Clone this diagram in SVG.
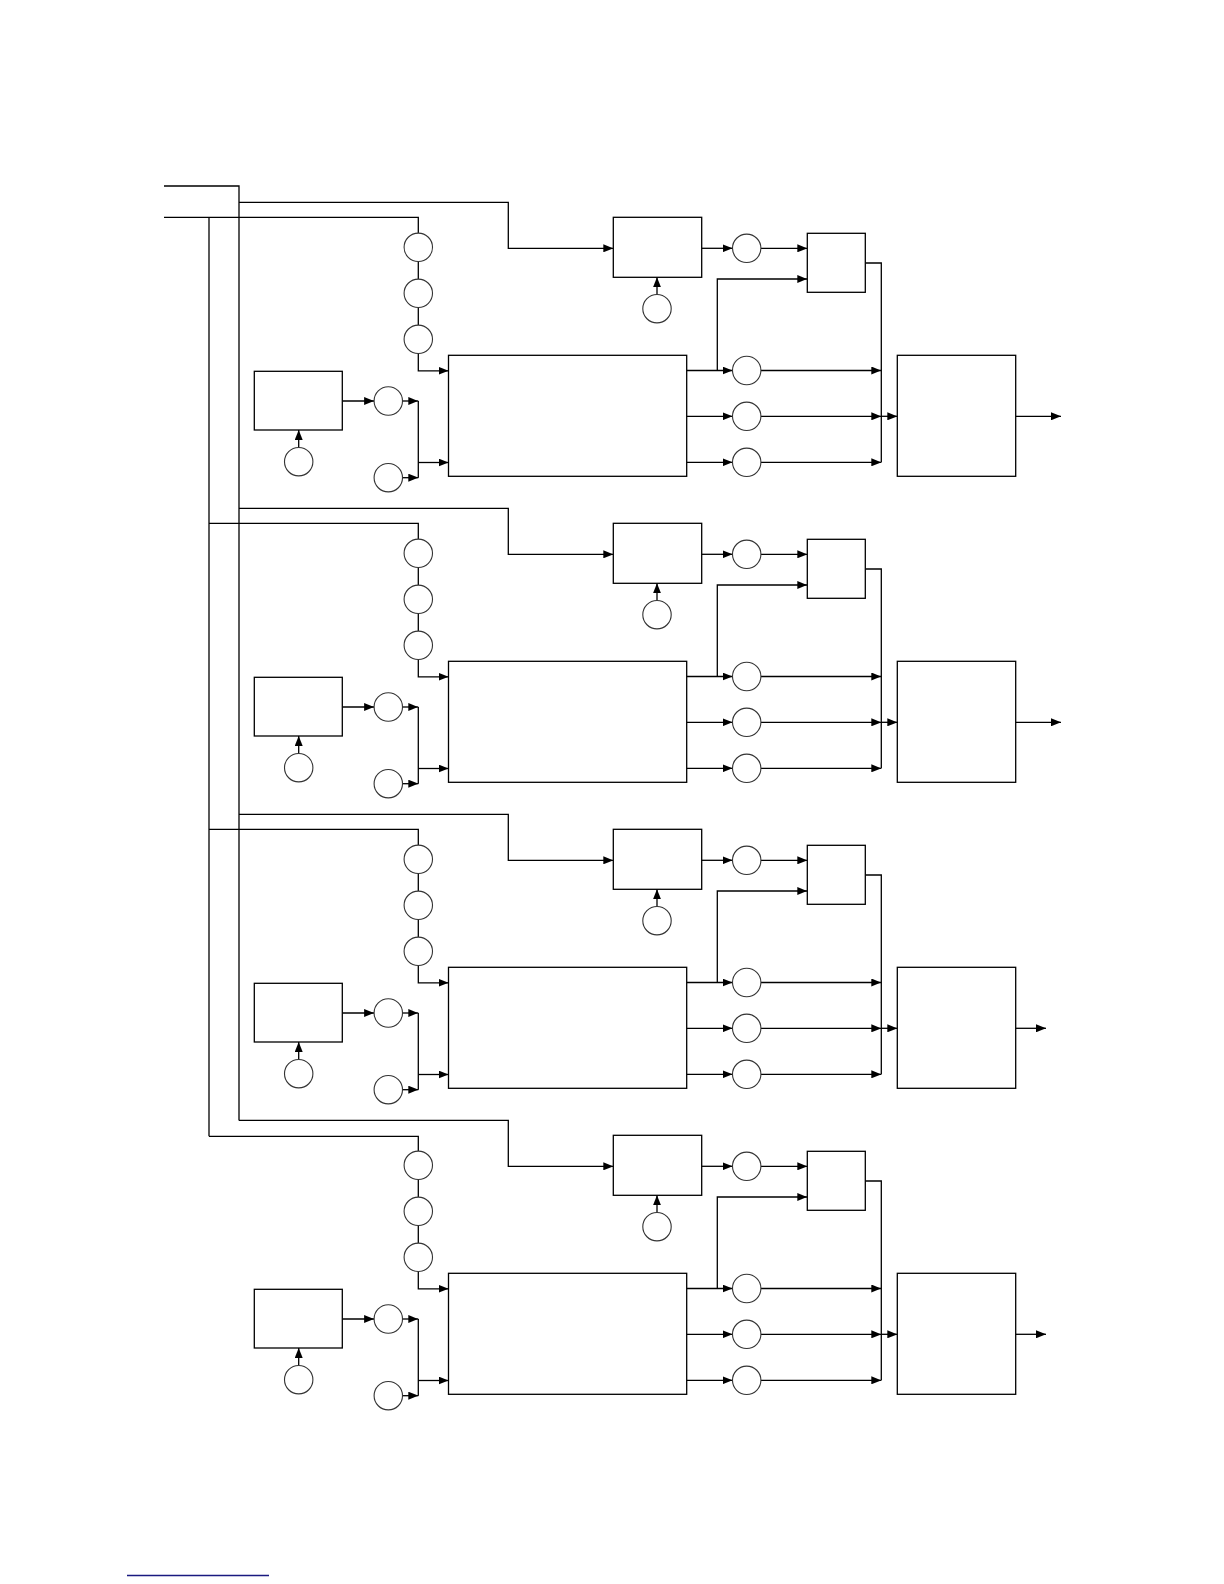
<svg xmlns="http://www.w3.org/2000/svg" width="1224" height="1584" viewBox="0 0 1224 1584">
<style>
.ln{fill:none;stroke:#000;stroke-width:1.3}
.ar{marker-end:url(#ah)}
.bx{fill:#fff;stroke:#000;stroke-width:1.3}
.ci{fill:#fff;stroke:#333;stroke-width:1.1}
</style>
<defs>
<marker id="ah" markerWidth="10" markerHeight="8" refX="10" refY="4" orient="auto" markerUnits="userSpaceOnUse"><path d="M0,0L10,4L0,8z" fill="#000"/></marker>
</defs>
<rect width="1224" height="1584" fill="#fff"/>
<g id="backbone" class="ln">
<path d="M164 186H239V1120.5"/>
<path d="M209 217.3V1136.3"/>
</g>
<g id="section1">
<g id="s1-connectors" class="ln">
<path class="ar" d="M239 202.3H508.3V248.3H613.3"/>
<path d="M164 217.3H418.3V233.1"/>
<path d="M418.3 261.5V279.1"/>
<path d="M418.3 307.5V325.1"/>
<path class="ar" d="M418.3 353.5V370.8H448.5"/>
<path class="ar" d="M342.3 401H374.1"/>
<path class="ar" d="M402.5 401H418.3"/>
<path class="ar" d="M402.5 477.7H418.3"/>
<path d="M418.3 401V477.7"/>
<path class="ar" d="M418.3 462.5H448.5"/>
<path class="ar" d="M298.7 447.5V430"/>
<path class="ar" d="M657 294.5V277.3"/>
<path class="ar" d="M701.7 248.3H732.5"/>
<path class="ar" d="M760.9 248.3H807.3"/>
<path class="ar" d="M686.7 370.5H732.5"/>
<path class="ar" d="M717.3 370.5V279H807.3"/>
<path class="ar" d="M686.7 416.3H732.5"/>
<path class="ar" d="M686.7 462.3H732.5"/>
<path class="ar" d="M760.9 370.5H881.3"/>
<path class="ar" d="M760.9 416.3H881.3"/>
<path class="ar" d="M760.9 462.3H881.3"/>
<path d="M865.3 263H881.3V462.3"/>
<path class="ar" d="M881.3 416.3H897.3"/>
<path class="ar" d="M1015.7 416.3H1061"/>
</g>
<g id="s1-box1"><rect class="bx" x="613.3" y="217.3" width="88.4" height="60"/></g>
<g id="s1-box1-ctrl"><circle class="ci" cx="657" cy="308.7" r="14.2"/></g>
<g id="s1-c-a"><circle class="ci" cx="746.7" cy="248.3" r="14.2"/></g>
<g id="s1-box2"><rect class="bx" x="807.3" y="233.3" width="58" height="59"/></g>
<g id="s1-out1"><circle class="ci" cx="746.7" cy="370.5" r="14.2"/></g>
<g id="s1-out2"><circle class="ci" cx="746.7" cy="416.3" r="14.2"/></g>
<g id="s1-out3"><circle class="ci" cx="746.7" cy="462.3" r="14.2"/></g>
<g id="s1-box3"><rect class="bx" x="897.3" y="355.3" width="118.4" height="121"/></g>
<g id="s1-chain1"><circle class="ci" cx="418.3" cy="247.3" r="14.2"/></g>
<g id="s1-chain2"><circle class="ci" cx="418.3" cy="293.3" r="14.2"/></g>
<g id="s1-chain3"><circle class="ci" cx="418.3" cy="339.3" r="14.2"/></g>
<g id="s1-main"><rect class="bx" x="448.5" y="355.3" width="238.2" height="121"/></g>
<g id="s1-small"><rect class="bx" x="254.3" y="371.3" width="88" height="58.7"/></g>
<g id="s1-small-ctrl"><circle class="ci" cx="298.7" cy="461.7" r="14.2"/></g>
<g id="s1-in1"><circle class="ci" cx="388.3" cy="401" r="14.2"/></g>
<g id="s1-in2"><circle class="ci" cx="388.3" cy="477.7" r="14.2"/></g>
</g>
<g id="section2" transform="translate(0,306)">
<g id="s2-connectors" class="ln">
<path class="ar" d="M239 202.3H508.3V248.3H613.3"/>
<path d="M209 217.3H418.3V233.1"/>
<path d="M418.3 261.5V279.1"/>
<path d="M418.3 307.5V325.1"/>
<path class="ar" d="M418.3 353.5V370.8H448.5"/>
<path class="ar" d="M342.3 401H374.1"/>
<path class="ar" d="M402.5 401H418.3"/>
<path class="ar" d="M402.5 477.7H418.3"/>
<path d="M418.3 401V477.7"/>
<path class="ar" d="M418.3 462.5H448.5"/>
<path class="ar" d="M298.7 447.5V430"/>
<path class="ar" d="M657 294.5V277.3"/>
<path class="ar" d="M701.7 248.3H732.5"/>
<path class="ar" d="M760.9 248.3H807.3"/>
<path class="ar" d="M686.7 370.5H732.5"/>
<path class="ar" d="M717.3 370.5V279H807.3"/>
<path class="ar" d="M686.7 416.3H732.5"/>
<path class="ar" d="M686.7 462.3H732.5"/>
<path class="ar" d="M760.9 370.5H881.3"/>
<path class="ar" d="M760.9 416.3H881.3"/>
<path class="ar" d="M760.9 462.3H881.3"/>
<path d="M865.3 263H881.3V462.3"/>
<path class="ar" d="M881.3 416.3H897.3"/>
<path class="ar" d="M1015.7 416.3H1061"/>
</g>
<g id="s2-box1"><rect class="bx" x="613.3" y="217.3" width="88.4" height="60"/></g>
<g id="s2-box1-ctrl"><circle class="ci" cx="657" cy="308.7" r="14.2"/></g>
<g id="s2-c-a"><circle class="ci" cx="746.7" cy="248.3" r="14.2"/></g>
<g id="s2-box2"><rect class="bx" x="807.3" y="233.3" width="58" height="59"/></g>
<g id="s2-out1"><circle class="ci" cx="746.7" cy="370.5" r="14.2"/></g>
<g id="s2-out2"><circle class="ci" cx="746.7" cy="416.3" r="14.2"/></g>
<g id="s2-out3"><circle class="ci" cx="746.7" cy="462.3" r="14.2"/></g>
<g id="s2-box3"><rect class="bx" x="897.3" y="355.3" width="118.4" height="121"/></g>
<g id="s2-chain1"><circle class="ci" cx="418.3" cy="247.3" r="14.2"/></g>
<g id="s2-chain2"><circle class="ci" cx="418.3" cy="293.3" r="14.2"/></g>
<g id="s2-chain3"><circle class="ci" cx="418.3" cy="339.3" r="14.2"/></g>
<g id="s2-main"><rect class="bx" x="448.5" y="355.3" width="238.2" height="121"/></g>
<g id="s2-small"><rect class="bx" x="254.3" y="371.3" width="88" height="58.7"/></g>
<g id="s2-small-ctrl"><circle class="ci" cx="298.7" cy="461.7" r="14.2"/></g>
<g id="s2-in1"><circle class="ci" cx="388.3" cy="401" r="14.2"/></g>
<g id="s2-in2"><circle class="ci" cx="388.3" cy="477.7" r="14.2"/></g>
</g>
<g id="section3" transform="translate(0,612)">
<g id="s3-connectors" class="ln">
<path class="ar" d="M239 202.3H508.3V248.3H613.3"/>
<path d="M209 217.3H418.3V233.1"/>
<path d="M418.3 261.5V279.1"/>
<path d="M418.3 307.5V325.1"/>
<path class="ar" d="M418.3 353.5V370.8H448.5"/>
<path class="ar" d="M342.3 401H374.1"/>
<path class="ar" d="M402.5 401H418.3"/>
<path class="ar" d="M402.5 477.7H418.3"/>
<path d="M418.3 401V477.7"/>
<path class="ar" d="M418.3 462.5H448.5"/>
<path class="ar" d="M298.7 447.5V430"/>
<path class="ar" d="M657 294.5V277.3"/>
<path class="ar" d="M701.7 248.3H732.5"/>
<path class="ar" d="M760.9 248.3H807.3"/>
<path class="ar" d="M686.7 370.5H732.5"/>
<path class="ar" d="M717.3 370.5V279H807.3"/>
<path class="ar" d="M686.7 416.3H732.5"/>
<path class="ar" d="M686.7 462.3H732.5"/>
<path class="ar" d="M760.9 370.5H881.3"/>
<path class="ar" d="M760.9 416.3H881.3"/>
<path class="ar" d="M760.9 462.3H881.3"/>
<path d="M865.3 263H881.3V462.3"/>
<path class="ar" d="M881.3 416.3H897.3"/>
<path class="ar" d="M1015.7 416.3H1046"/>
</g>
<g id="s3-box1"><rect class="bx" x="613.3" y="217.3" width="88.4" height="60"/></g>
<g id="s3-box1-ctrl"><circle class="ci" cx="657" cy="308.7" r="14.2"/></g>
<g id="s3-c-a"><circle class="ci" cx="746.7" cy="248.3" r="14.2"/></g>
<g id="s3-box2"><rect class="bx" x="807.3" y="233.3" width="58" height="59"/></g>
<g id="s3-out1"><circle class="ci" cx="746.7" cy="370.5" r="14.2"/></g>
<g id="s3-out2"><circle class="ci" cx="746.7" cy="416.3" r="14.2"/></g>
<g id="s3-out3"><circle class="ci" cx="746.7" cy="462.3" r="14.2"/></g>
<g id="s3-box3"><rect class="bx" x="897.3" y="355.3" width="118.4" height="121"/></g>
<g id="s3-chain1"><circle class="ci" cx="418.3" cy="247.3" r="14.2"/></g>
<g id="s3-chain2"><circle class="ci" cx="418.3" cy="293.3" r="14.2"/></g>
<g id="s3-chain3"><circle class="ci" cx="418.3" cy="339.3" r="14.2"/></g>
<g id="s3-main"><rect class="bx" x="448.5" y="355.3" width="238.2" height="121"/></g>
<g id="s3-small"><rect class="bx" x="254.3" y="371.3" width="88" height="58.7"/></g>
<g id="s3-small-ctrl"><circle class="ci" cx="298.7" cy="461.7" r="14.2"/></g>
<g id="s3-in1"><circle class="ci" cx="388.3" cy="401" r="14.2"/></g>
<g id="s3-in2"><circle class="ci" cx="388.3" cy="477.7" r="14.2"/></g>
</g>
<g id="section4" transform="translate(0,918)">
<g id="s4-connectors" class="ln">
<path class="ar" d="M239 202.3H508.3V248.3H613.3"/>
<path d="M209 218.3H418.3V233.1"/>
<path d="M418.3 261.5V279.1"/>
<path d="M418.3 307.5V325.1"/>
<path class="ar" d="M418.3 353.5V370.8H448.5"/>
<path class="ar" d="M342.3 401H374.1"/>
<path class="ar" d="M402.5 401H418.3"/>
<path class="ar" d="M402.5 477.7H418.3"/>
<path d="M418.3 401V477.7"/>
<path class="ar" d="M418.3 462.5H448.5"/>
<path class="ar" d="M298.7 447.5V430"/>
<path class="ar" d="M657 294.5V277.3"/>
<path class="ar" d="M701.7 248.3H732.5"/>
<path class="ar" d="M760.9 248.3H807.3"/>
<path class="ar" d="M686.7 370.5H732.5"/>
<path class="ar" d="M717.3 370.5V279H807.3"/>
<path class="ar" d="M686.7 416.3H732.5"/>
<path class="ar" d="M686.7 462.3H732.5"/>
<path class="ar" d="M760.9 370.5H881.3"/>
<path class="ar" d="M760.9 416.3H881.3"/>
<path class="ar" d="M760.9 462.3H881.3"/>
<path d="M865.3 263H881.3V462.3"/>
<path class="ar" d="M881.3 416.3H897.3"/>
<path class="ar" d="M1015.7 416.3H1046"/>
</g>
<g id="s4-box1"><rect class="bx" x="613.3" y="217.3" width="88.4" height="60"/></g>
<g id="s4-box1-ctrl"><circle class="ci" cx="657" cy="308.7" r="14.2"/></g>
<g id="s4-c-a"><circle class="ci" cx="746.7" cy="248.3" r="14.2"/></g>
<g id="s4-box2"><rect class="bx" x="807.3" y="233.3" width="58" height="59"/></g>
<g id="s4-out1"><circle class="ci" cx="746.7" cy="370.5" r="14.2"/></g>
<g id="s4-out2"><circle class="ci" cx="746.7" cy="416.3" r="14.2"/></g>
<g id="s4-out3"><circle class="ci" cx="746.7" cy="462.3" r="14.2"/></g>
<g id="s4-box3"><rect class="bx" x="897.3" y="355.3" width="118.4" height="121"/></g>
<g id="s4-chain1"><circle class="ci" cx="418.3" cy="247.3" r="14.2"/></g>
<g id="s4-chain2"><circle class="ci" cx="418.3" cy="293.3" r="14.2"/></g>
<g id="s4-chain3"><circle class="ci" cx="418.3" cy="339.3" r="14.2"/></g>
<g id="s4-main"><rect class="bx" x="448.5" y="355.3" width="238.2" height="121"/></g>
<g id="s4-small"><rect class="bx" x="254.3" y="371.3" width="88" height="58.7"/></g>
<g id="s4-small-ctrl"><circle class="ci" cx="298.7" cy="461.7" r="14.2"/></g>
<g id="s4-in1"><circle class="ci" cx="388.3" cy="401" r="14.2"/></g>
<g id="s4-in2"><circle class="ci" cx="388.3" cy="477.7" r="14.2"/></g>
</g>
<g id="footer-rule"><path d="M127 1575.5H269" stroke="#1a1a80" stroke-width="1.3"/></g>
</svg>
